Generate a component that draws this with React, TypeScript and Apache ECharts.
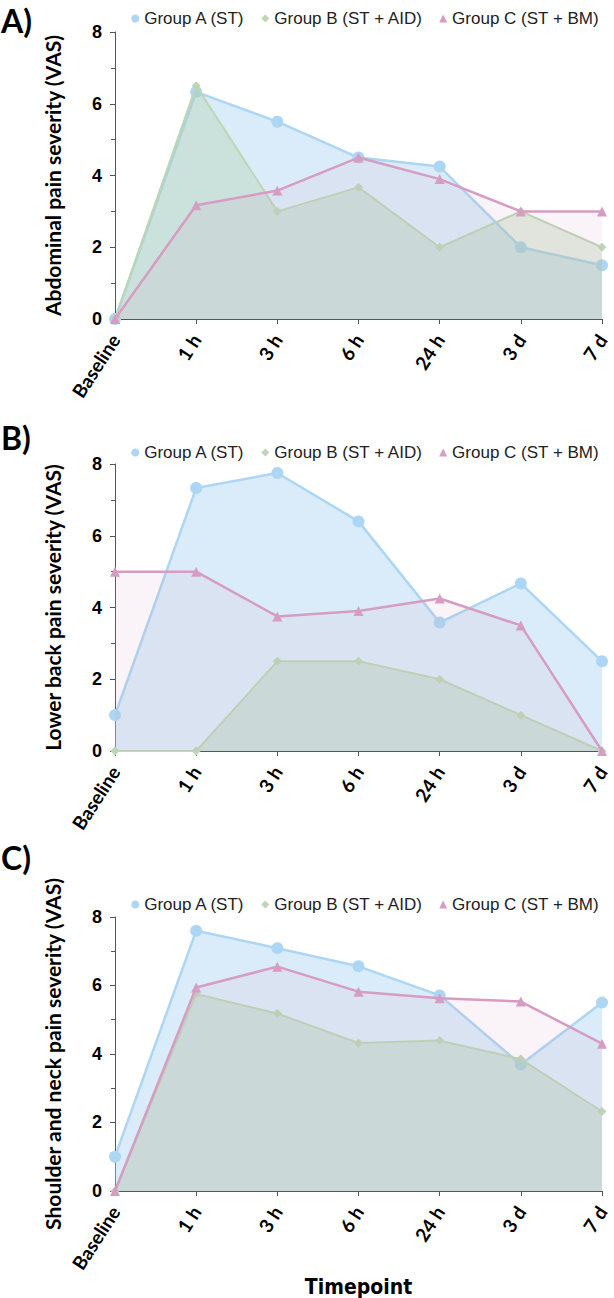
import React, { useEffect, useRef } from "react";
import * as echarts from "echarts";

const categories = ["Baseline", "1 h", "3 h", "6 h", "24 h", "3 d", "7 d"];
const seriesNames = ["Group A (ST)", "Group B (ST + AID)", "Group C (ST + BM)"];
const panelLetters = ["A)", "B)", "C)"];
const yTitles = [
  "Abdominal pain severity (VAS)",
  "Lower back pain severity (VAS)",
  "Shoulder and neck pain severity (VAS)",
];
const xTitle = "Timepoint";

// Panel A: Abdominal pain
const abdA = [0, 6.33, 5.5, 4.5, 4.25, 2.0, 1.5];
const abdB = [0, 6.5, 3.0, 3.67, 2.0, 3.0, 2.0];
const abdC = [0, 3.17, 3.58, 4.5, 3.9, 3.0, 3.0];
// Panel B: Lower back pain
const backA = [1.0, 7.33, 7.75, 6.4, 3.58, 4.67, 2.5];
const backB = [0, 0, 2.5, 2.5, 2.0, 1.0, 0];
const backC = [5.0, 5.0, 3.75, 3.9, 4.25, 3.5, 0];
// Panel C: Shoulder and neck pain
const neckA = [1.0, 7.6, 7.09, 6.56, 5.71, 3.69, 5.5];
const neckB = [0, 5.75, 5.18, 4.32, 4.39, 3.85, 2.32];
const neckC = [0, 5.94, 6.55, 5.82, 5.63, 5.53, 4.3];

const panels = [
  [abdA, abdB, abdC],
  [backA, backB, backC],
  [neckA, neckB, neckC],
];

const lineColors = ["#acd6f3", "#bdd6b5", "#d69cc2"];
const areaColors = ["#a6d2f0", "#a9c99e", "#d49bc0"];
const areaOpacity = [0.42, 0.32, 0.11];
const symbols = ["circle", "diamond", "triangle"];
const symbolSizes = [12, 9, 10];

const gridTops = [32, 464, 917];
const gridHeight = 287;
const legendTops = [5, 439, 891];
const letterTops = [4, 421, 841];

export default function App() {
  const ref = useRef<HTMLDivElement>(null);
  useEffect(() => {
    if (!ref.current) return;
    const chart = echarts.init(ref.current, undefined, { renderer: "svg" });
    const grids = gridTops.map((t) => ({ left: 115, right: 12, top: t, height: gridHeight }));
    const xAxis = gridTops.map((_, i) => ({
      type: "category",
      gridIndex: i,
      data: categories,
      boundaryGap: false,
      axisLine: { lineStyle: { color: "#555", width: 1 } },
      axisTick: { show: true, alignWithLabel: true, length: 5, lineStyle: { color: "#555" } },
      axisLabel: {
        rotate: 57,
        margin: 17,
        color: "#000",
        fontFamily: "Lato",
        fontWeight: "bold",
        fontSize: 19,
        interval: 0,
      },
      name: i === 2 ? xTitle : "",
      nameLocation: "middle",
      nameGap: 68,
      nameTextStyle: {
        fontFamily: "'DejaVu Sans Condensed', 'Liberation Sans'",
        fontWeight: "bold",
        fontSize: 21,
        color: "#000",
      },
      splitLine: { show: false },
    }));
    const yAxis = gridTops.map((_, i) => ({
      type: "value",
      gridIndex: i,
      min: 0,
      max: 8,
      interval: 2,
      axisLine: { show: true, lineStyle: { color: "#555", width: 1 } },
      axisTick: { show: true, length: 5, lineStyle: { color: "#555" } },
      minorTick: { show: true, splitNumber: 2, length: 4, lineStyle: { color: "#555" } },
      splitLine: { show: false },
      axisLabel: {
        color: "#000",
        fontFamily: "Liberation Sans",
        fontWeight: "bold",
        fontSize: 18,
        margin: 13,
      },
      name: yTitles[i],
      nameLocation: "middle",
      nameRotate: 90,
      nameGap: 52,
      nameTextStyle: { fontFamily: "Lato", fontWeight: "bold", fontSize: 21, color: "#000" },
    }));
    const legend = legendTops.map((t) => ({
      top: t,
      right: 10,
      data: seriesNames.map((n, k) => ({ name: n, icon: symbols[k] })),
      itemWidth: 8,
      itemHeight: 8,
      itemGap: 16,
      textStyle: { fontFamily: "Liberation Sans", fontSize: 17, color: "#222" },
    }));
    const series: any[] = [];
    panels.forEach((vals, p) => {
      vals.forEach((arr, s) => {
        series.push({
          type: "line",
          name: seriesNames[s],
          xAxisIndex: p,
          yAxisIndex: p,
          data: arr,
          symbol: symbols[s],
          symbolSize: symbolSizes[s],
          showSymbol: true,
          lineStyle: { color: lineColors[s], width: s === 1 ? 2 : 2.5 },
          itemStyle: { color: lineColors[s] },
          areaStyle: { color: areaColors[s], opacity: areaOpacity[s] },
          z: 2 + s,
        });
      });
    });
    chart.setOption({
      animation: false,
      backgroundColor: "#fff",
      grid: grids,
      xAxis,
      yAxis,
      legend,
      series,
      graphic: letterTops.map((t, i) => ({
        type: "text",
        left: 1,
        top: t,
        style: {
          text: panelLetters[i],
          font: "bold 32px Lato",
          fill: "#000",
        },
      })),
    });
    return () => chart.dispose();
  }, []);
  return (
    <div
      ref={ref}
      style={{ position: "absolute", left: 0, top: 0, width: 614, height: 1298 }}
    />
  );
}
